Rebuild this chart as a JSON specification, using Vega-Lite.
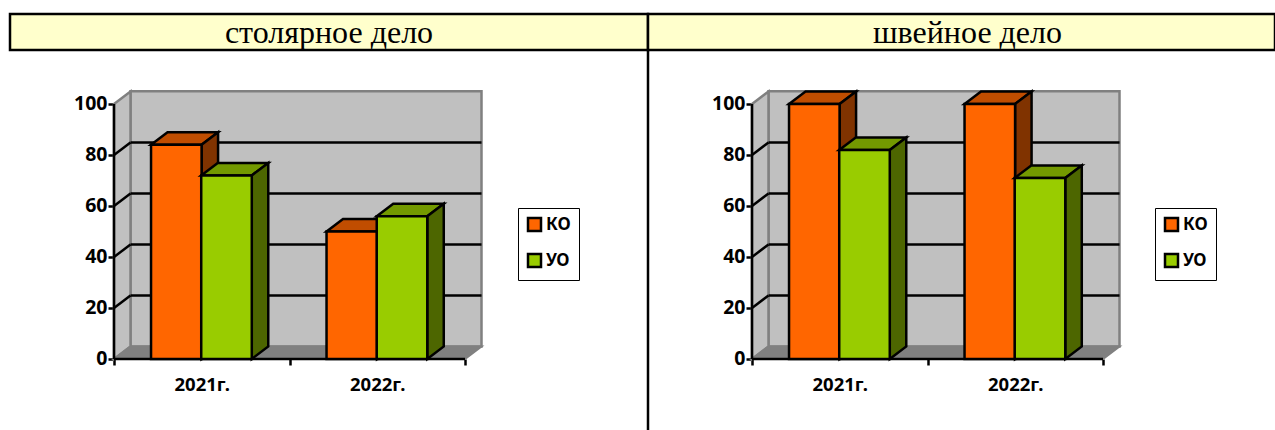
{
"$schema":"https://vega.github.io/schema/vega-lite/v6.json",
"padding":{"left":8,"top":12,"right":0,"bottom":0},
"background":"white",
"bounds":"flush","spacing":37,
"datasets":{"bars":[
{"panel":"столярное дело","year":"2021г.","series":"КО","value":84},
{"panel":"столярное дело","year":"2021г.","series":"УО","value":72},
{"panel":"столярное дело","year":"2022г.","series":"КО","value":50},
{"panel":"столярное дело","year":"2022г.","series":"УО","value":56},
{"panel":"швейное дело","year":"2021г.","series":"КО","value":100},
{"panel":"швейное дело","year":"2021г.","series":"УО","value":82},
{"panel":"швейное дело","year":"2022г.","series":"КО","value":100},
{"panel":"швейное дело","year":"2022г.","series":"УО","value":71}
],
"ticks":[{"tick":20},{"tick":40},{"tick":60},{"tick":80}]},
"vconcat":[
{"hconcat":[
{"width":638,"height":36,"view":{"fill":"#FFFFCC","stroke":"#000","strokeWidth":2.5},"data":{"values":[{"title":"столярное дело"}]},"mark":{"type":"text","font":"Liberation Serif","fontSize":32,"color":"#000","dy":1},"encoding":{"x":{"field":"title","type":"nominal","axis":null},"text":{"field":"title"}}},
{"width":627,"height":36,"view":{"fill":"#FFFFCC","stroke":"#000","strokeWidth":2.5},"data":{"values":[{"title":"швейное дело"}]},"mark":{"type":"text","font":"Liberation Serif","fontSize":32,"color":"#000","dx":6,"dy":1},"encoding":{"x":{"field":"title","type":"nominal","axis":null},"text":{"field":"title"}}}
],"spacing":0,"bounds":"flush"},
{"resolve":{"scale":{"color":"independent"},"legend":{"color":"independent"}},"hconcat":[
{"width":638,"height":380,"view":{"stroke":null},
"data":{"name":"bars"},
"transform":[{"filter":"datum.panel=='столярное дело'"},{"calculate":"indexof(['2021г.','2022г.'],datum.year)+(datum.series=='КО'?0.211:0.497)","as":"L"},{"calculate":"datum.L+0.288","as":"R"}],
"layer":[
{"data":{"values":[{}]},"mark":{"type":"rect","fill":"#C0C0C0","stroke":"#808080","strokeWidth":2.5},"encoding":{
"x":{"datum":0.094,"type":"quantitative","scale":{"domain":[-0.5926,3.0427],"nice":false,"zero":false},"axis":{"title":null,"offset":-72,"domain":false,"grid":false,"values":[0,0.5,1,1.5,2],"labelExpr":"datum.value==0.5?'2021г.':datum.value==1.5?'2022г.':''","tickOpacity":{"condition":{"test":"datum.value%1==0","value":1},"value":0},"tickColor":"#000","tickWidth":2.5,"tickSize":6,"labelPadding":10,"labelFont":"Noto Sans","labelFontWeight":"bold","labelFontSize":18.5,"labelColor":"#000","labelFlush":false,"labelBound":false,"labelOverlap":false}},
"x2":{"datum":2.094},
"y":{"datum":4.9,"type":"quantitative","scale":{"domain":[-28.24,120.78],"nice":false,"zero":false},"axis":{"title":null,"offset":-104,"domain":false,"grid":false,"values":[0,20,40,60,80,100],"tickColor":"#000","tickWidth":2.5,"tickSize":6,"labelPadding":1,"labelFont":"Noto Sans","labelFontWeight":"bold","labelFontSize":19.5,"labelColor":"#000","labelFlush":false,"labelBound":false,"labelOverlap":false}},
"y2":{"datum":105}}},
{"data":{"values":[{"t":0},{"t":1}]},"transform":[{"calculate":"datum.t*0.094","as":"px"},{"calculate":"datum.t*4.9","as":"lo"},{"calculate":"100+datum.t*4.9","as":"hi"}],"mark":{"type":"area","color":"#C0C0C0","stroke":"#808080","strokeWidth":2.5},"encoding":{"x":{"field":"px","type":"quantitative","title":null},"y":{"field":"hi","type":"quantitative","title":null,"stack":null},"y2":{"field":"lo"}}},
{"data":{"values":[{"t":0},{"t":1},{"t":2},{"t":3}]},"transform":[{"calculate":"[0,0.094,2,2.094][datum.t]","as":"px"},{"calculate":"[0,0,0,4.9][datum.t]","as":"lo"},{"calculate":"[0,4.9,4.9,4.9][datum.t]","as":"hi"}],"mark":{"type":"area","color":"#808080","stroke":"#808080","strokeWidth":2},"encoding":{"x":{"field":"px","type":"quantitative","title":null},"y":{"field":"hi","type":"quantitative","title":null,"stack":null},"y2":{"field":"lo"}}},
{"data":{"name":"ticks"},"mark":{"type":"rule","color":"#000","strokeWidth":2.5,"yOffset":-12.5},"encoding":{"x":{"datum":0.094},"x2":{"datum":2.094},"y":{"field":"tick","type":"quantitative","title":null}}},
{"data":{"name":"ticks"},"transform":[{"calculate":"datum.tick+4.9","as":"back"}],"mark":{"type":"rule","color":"#000","strokeWidth":2.5},"encoding":{"x":{"datum":0},"x2":{"datum":0.094},"y":{"field":"tick","type":"quantitative","title":null},"y2":{"field":"back"}}},
{"data":{"values":[{}]},"mark":{"type":"rule","color":"#000","strokeWidth":2.5},"encoding":{"x":{"datum":0},"y":{"datum":0},"y2":{"datum":100}}},
{"data":{"values":[{}]},"mark":{"type":"rule","color":"#000","strokeWidth":2.5},"encoding":{"x":{"datum":0},"x2":{"datum":2},"y":{"datum":0}}},
{"transform":[{"filter":"datum.series=='КО'"},{"calculate":"[0,1,2,3]","as":"t"},{"flatten":["t"]},{"calculate":"[datum.L,datum.L+0.094,datum.R,datum.R+0.094][datum.t]","as":"px"},{"calculate":"[datum.value,datum.value,datum.value,datum.value+4.9][datum.t]","as":"lo"},{"calculate":"datum.t==0?datum.value:datum.value+4.9","as":"hi"}],"mark":{"type":"area","color":"#C04D00","stroke":"#000","strokeWidth":2.5},"encoding":{"x":{"field":"px","type":"quantitative","title":null},"y":{"field":"hi","type":"quantitative","title":null,"stack":null},"y2":{"field":"lo"},"detail":{"field":"year"}}},
{"transform":[{"filter":"datum.series=='КО'"},{"calculate":"[0,1]","as":"t"},{"flatten":["t"]},{"calculate":"datum.R+datum.t*0.094","as":"px"},{"calculate":"datum.t*4.9","as":"lo"},{"calculate":"datum.value+datum.t*4.9","as":"hi"}],"mark":{"type":"area","color":"#803300","stroke":"#000","strokeWidth":2.5},"encoding":{"x":{"field":"px","type":"quantitative","title":null},"y":{"field":"hi","type":"quantitative","title":null,"stack":null},"y2":{"field":"lo"},"detail":{"field":"year"}}},
{"transform":[{"filter":"datum.series=='КО'"}],"mark":{"type":"rect","stroke":"#000","strokeWidth":2.5},"encoding":{"x":{"field":"L","type":"quantitative","title":null},"x2":{"field":"R"},"y":{"field":"value","type":"quantitative","title":null},"y2":{"datum":0},"color":{"field":"series","type":"nominal","scale":{"domain":["КО","УО"],"range":["#FF6600","#99CC00"]},"legend":{"title":null,"orient":"none","legendX":508,"legendY":157,"fillColor":"#fff","strokeColor":"#000","symbolType":"square","symbolSize":169,"symbolStrokeColor":"#000","symbolStrokeWidth":2.5,"labelFont":"Noto Sans","labelFontWeight":"bold","labelFontSize":17,"labelColor":"#000","padding":8,"rowPadding":13,"labelOffset":3}}}},
{"transform":[{"filter":"datum.series=='УО'"},{"calculate":"[0,1,2,3]","as":"t"},{"flatten":["t"]},{"calculate":"[datum.L,datum.L+0.094,datum.R,datum.R+0.094][datum.t]","as":"px"},{"calculate":"[datum.value,datum.value,datum.value,datum.value+4.9][datum.t]","as":"lo"},{"calculate":"datum.t==0?datum.value:datum.value+4.9","as":"hi"}],"mark":{"type":"area","color":"#739900","stroke":"#000","strokeWidth":2.5},"encoding":{"x":{"field":"px","type":"quantitative","title":null},"y":{"field":"hi","type":"quantitative","title":null,"stack":null},"y2":{"field":"lo"},"detail":{"field":"year"}}},
{"transform":[{"filter":"datum.series=='УО'"},{"calculate":"[0,1]","as":"t"},{"flatten":["t"]},{"calculate":"datum.R+datum.t*0.094","as":"px"},{"calculate":"datum.t*4.9","as":"lo"},{"calculate":"datum.value+datum.t*4.9","as":"hi"}],"mark":{"type":"area","color":"#4D6600","stroke":"#000","strokeWidth":2.5},"encoding":{"x":{"field":"px","type":"quantitative","title":null},"y":{"field":"hi","type":"quantitative","title":null,"stack":null},"y2":{"field":"lo"},"detail":{"field":"year"}}},
{"transform":[{"filter":"datum.series=='УО'"}],"mark":{"type":"rect","stroke":"#000","strokeWidth":2.5},"encoding":{"x":{"field":"L","type":"quantitative","title":null},"x2":{"field":"R"},"y":{"field":"value","type":"quantitative","title":null},"y2":{"datum":0},"color":{"field":"series","type":"nominal"}}}
]},
{"width":627,"height":380,"view":{"stroke":null},
"data":{"name":"bars"},
"transform":[{"filter":"datum.panel=='швейное дело'"},{"calculate":"indexof(['2021г.','2022г.'],datum.year)+(datum.series=='КО'?0.211:0.497)","as":"L"},{"calculate":"datum.L+0.288","as":"R"}],
"layer":[
{"data":{"values":[{}]},"mark":{"type":"rect","fill":"#C0C0C0","stroke":"#808080","strokeWidth":2.5},"encoding":{
"x":{"datum":0.094,"type":"quantitative","scale":{"domain":[-0.5926,2.98],"nice":false,"zero":false},"axis":{"title":null,"offset":-72,"domain":false,"grid":false,"values":[0,0.5,1,1.5,2],"labelExpr":"datum.value==0.5?'2021г.':datum.value==1.5?'2022г.':''","tickOpacity":{"condition":{"test":"datum.value%1==0","value":1},"value":0},"tickColor":"#000","tickWidth":2.5,"tickSize":6,"labelPadding":10,"labelFont":"Noto Sans","labelFontWeight":"bold","labelFontSize":18.5,"labelColor":"#000","labelFlush":false,"labelBound":false,"labelOverlap":false}},
"x2":{"datum":2.094},
"y":{"datum":4.9,"type":"quantitative","scale":{"domain":[-28.24,120.78],"nice":false,"zero":false},"axis":{"title":null,"offset":-104,"domain":false,"grid":false,"values":[0,20,40,60,80,100],"tickColor":"#000","tickWidth":2.5,"tickSize":6,"labelPadding":1,"labelFont":"Noto Sans","labelFontWeight":"bold","labelFontSize":19.5,"labelColor":"#000","labelFlush":false,"labelBound":false,"labelOverlap":false}},
"y2":{"datum":105}}},
{"data":{"values":[{"t":0},{"t":1}]},"transform":[{"calculate":"datum.t*0.094","as":"px"},{"calculate":"datum.t*4.9","as":"lo"},{"calculate":"100+datum.t*4.9","as":"hi"}],"mark":{"type":"area","color":"#C0C0C0","stroke":"#808080","strokeWidth":2.5},"encoding":{"x":{"field":"px","type":"quantitative","title":null},"y":{"field":"hi","type":"quantitative","title":null,"stack":null},"y2":{"field":"lo"}}},
{"data":{"values":[{"t":0},{"t":1},{"t":2},{"t":3}]},"transform":[{"calculate":"[0,0.094,2,2.094][datum.t]","as":"px"},{"calculate":"[0,0,0,4.9][datum.t]","as":"lo"},{"calculate":"[0,4.9,4.9,4.9][datum.t]","as":"hi"}],"mark":{"type":"area","color":"#808080","stroke":"#808080","strokeWidth":2},"encoding":{"x":{"field":"px","type":"quantitative","title":null},"y":{"field":"hi","type":"quantitative","title":null,"stack":null},"y2":{"field":"lo"}}},
{"data":{"name":"ticks"},"mark":{"type":"rule","color":"#000","strokeWidth":2.5,"yOffset":-12.5},"encoding":{"x":{"datum":0.094},"x2":{"datum":2.094},"y":{"field":"tick","type":"quantitative","title":null}}},
{"data":{"name":"ticks"},"transform":[{"calculate":"datum.tick+4.9","as":"back"}],"mark":{"type":"rule","color":"#000","strokeWidth":2.5},"encoding":{"x":{"datum":0},"x2":{"datum":0.094},"y":{"field":"tick","type":"quantitative","title":null},"y2":{"field":"back"}}},
{"data":{"values":[{}]},"mark":{"type":"rule","color":"#000","strokeWidth":2.5},"encoding":{"x":{"datum":0},"y":{"datum":0},"y2":{"datum":100}}},
{"data":{"values":[{}]},"mark":{"type":"rule","color":"#000","strokeWidth":2.5},"encoding":{"x":{"datum":0},"x2":{"datum":2},"y":{"datum":0}}},
{"data":{"values":[{}]},"mark":{"type":"rule","color":"#000","strokeWidth":2.5},"encoding":{"x":{"datum":-0.5926},"y":{"datum":-28.24},"y2":{"datum":120.78}}},
{"transform":[{"filter":"datum.series=='КО'"},{"calculate":"[0,1,2,3]","as":"t"},{"flatten":["t"]},{"calculate":"[datum.L,datum.L+0.094,datum.R,datum.R+0.094][datum.t]","as":"px"},{"calculate":"[datum.value,datum.value,datum.value,datum.value+4.9][datum.t]","as":"lo"},{"calculate":"datum.t==0?datum.value:datum.value+4.9","as":"hi"}],"mark":{"type":"area","color":"#C04D00","stroke":"#000","strokeWidth":2.5},"encoding":{"x":{"field":"px","type":"quantitative","title":null},"y":{"field":"hi","type":"quantitative","title":null,"stack":null},"y2":{"field":"lo"},"detail":{"field":"year"}}},
{"transform":[{"filter":"datum.series=='КО'"},{"calculate":"[0,1]","as":"t"},{"flatten":["t"]},{"calculate":"datum.R+datum.t*0.094","as":"px"},{"calculate":"datum.t*4.9","as":"lo"},{"calculate":"datum.value+datum.t*4.9","as":"hi"}],"mark":{"type":"area","color":"#803300","stroke":"#000","strokeWidth":2.5},"encoding":{"x":{"field":"px","type":"quantitative","title":null},"y":{"field":"hi","type":"quantitative","title":null,"stack":null},"y2":{"field":"lo"},"detail":{"field":"year"}}},
{"transform":[{"filter":"datum.series=='КО'"}],"mark":{"type":"rect","stroke":"#000","strokeWidth":2.5},"encoding":{"x":{"field":"L","type":"quantitative","title":null},"x2":{"field":"R"},"y":{"field":"value","type":"quantitative","title":null},"y2":{"datum":0},"color":{"field":"series","type":"nominal","scale":{"domain":["КО","УО"],"range":["#FF6600","#99CC00"]},"legend":{"title":null,"orient":"none","legendX":507,"legendY":157,"fillColor":"#fff","strokeColor":"#000","symbolType":"square","symbolSize":169,"symbolStrokeColor":"#000","symbolStrokeWidth":2.5,"labelFont":"Noto Sans","labelFontWeight":"bold","labelFontSize":17,"labelColor":"#000","padding":8,"rowPadding":13,"labelOffset":3}}}},
{"transform":[{"filter":"datum.series=='УО'"},{"calculate":"[0,1,2,3]","as":"t"},{"flatten":["t"]},{"calculate":"[datum.L,datum.L+0.094,datum.R,datum.R+0.094][datum.t]","as":"px"},{"calculate":"[datum.value,datum.value,datum.value,datum.value+4.9][datum.t]","as":"lo"},{"calculate":"datum.t==0?datum.value:datum.value+4.9","as":"hi"}],"mark":{"type":"area","color":"#739900","stroke":"#000","strokeWidth":2.5},"encoding":{"x":{"field":"px","type":"quantitative","title":null},"y":{"field":"hi","type":"quantitative","title":null,"stack":null},"y2":{"field":"lo"},"detail":{"field":"year"}}},
{"transform":[{"filter":"datum.series=='УО'"},{"calculate":"[0,1]","as":"t"},{"flatten":["t"]},{"calculate":"datum.R+datum.t*0.094","as":"px"},{"calculate":"datum.t*4.9","as":"lo"},{"calculate":"datum.value+datum.t*4.9","as":"hi"}],"mark":{"type":"area","color":"#4D6600","stroke":"#000","strokeWidth":2.5},"encoding":{"x":{"field":"px","type":"quantitative","title":null},"y":{"field":"hi","type":"quantitative","title":null,"stack":null},"y2":{"field":"lo"},"detail":{"field":"year"}}},
{"transform":[{"filter":"datum.series=='УО'"}],"mark":{"type":"rect","stroke":"#000","strokeWidth":2.5},"encoding":{"x":{"field":"L","type":"quantitative","title":null},"x2":{"field":"R"},"y":{"field":"value","type":"quantitative","title":null},"y2":{"datum":0},"color":{"field":"series","type":"nominal"}}}
]}
],"spacing":0,"bounds":"flush"}
]}
